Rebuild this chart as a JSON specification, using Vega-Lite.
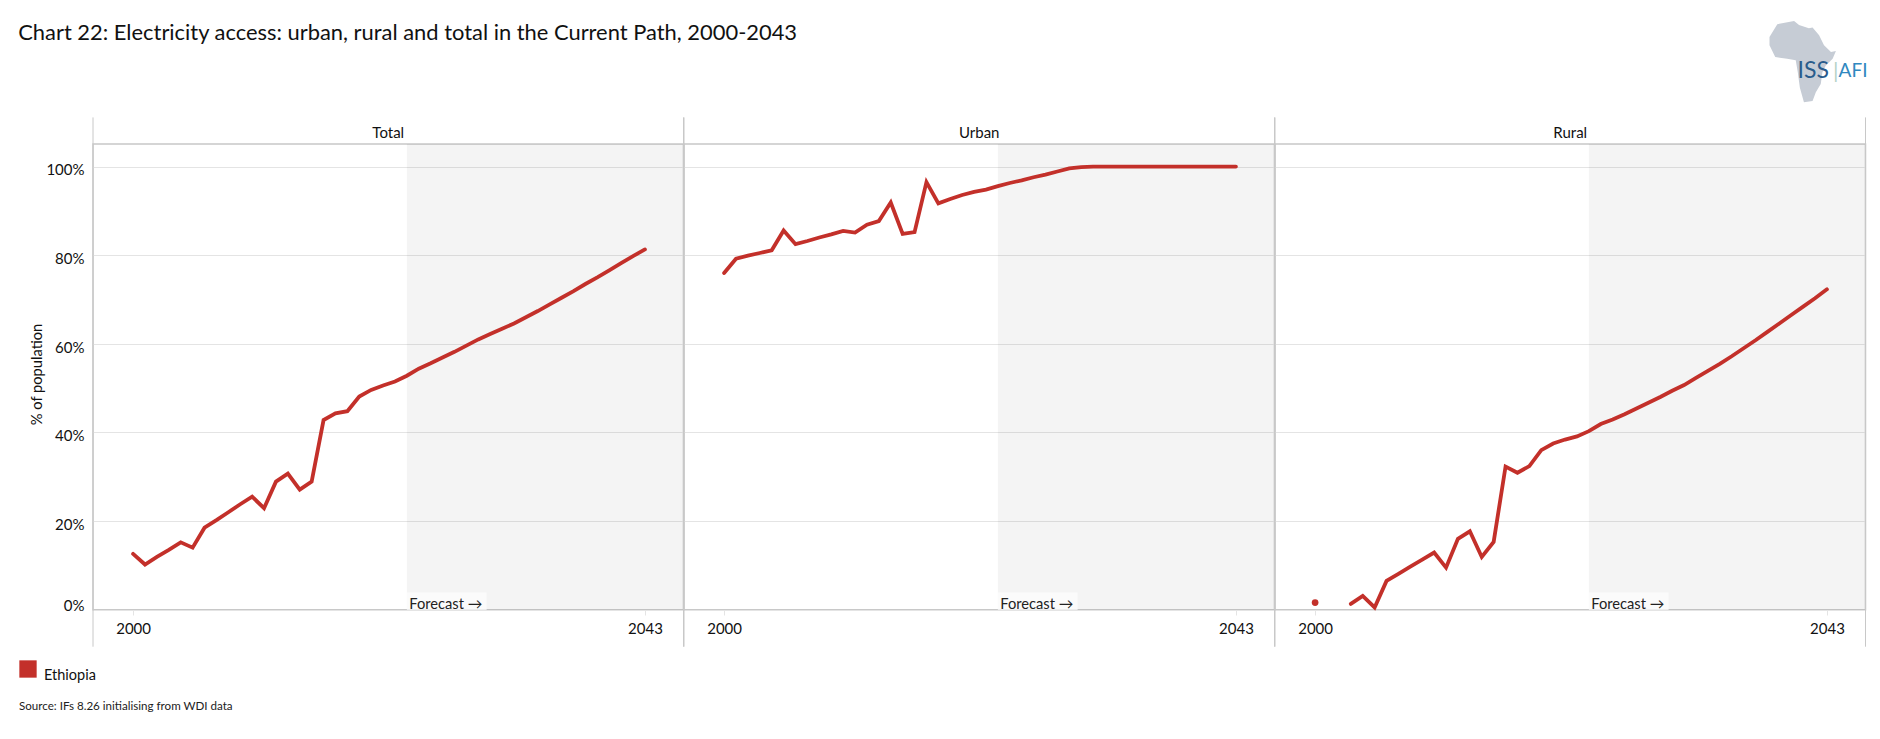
{
"$schema":"https://vega.github.io/schema/vega-lite/v6.json",
"padding":{"left":18,"top":20,"right":15,"bottom":20},
"background":"white",
"title":{"text":"Chart 22: Electricity access: urban, rural and total in the Current Path, 2000-2043","anchor":"start","font":"Lato","fontSize":21.9,"fontWeight":"normal","color":"#111111","dx":0,"offset":-25},
"data":{"values":[
{"panel":"Total","year":2000,"value":12.6},{"panel":"Total","year":2001,"value":10.2},{"panel":"Total","year":2002,"value":11.9},{"panel":"Total","year":2003,"value":13.5},{"panel":"Total","year":2004,"value":15.2},{"panel":"Total","year":2005,"value":14},{"panel":"Total","year":2006,"value":18.5},{"panel":"Total","year":2007,"value":20.2},{"panel":"Total","year":2008,"value":22},{"panel":"Total","year":2009,"value":23.8},{"panel":"Total","year":2010,"value":25.5},{"panel":"Total","year":2011,"value":22.9},{"panel":"Total","year":2012,"value":28.9},{"panel":"Total","year":2013,"value":30.7},{"panel":"Total","year":2014,"value":27.1},{"panel":"Total","year":2015,"value":28.9},{"panel":"Total","year":2016,"value":42.8},{"panel":"Total","year":2017,"value":44.3},{"panel":"Total","year":2018,"value":44.8},{"panel":"Total","year":2019,"value":48.1},{"panel":"Total","year":2020,"value":49.6},{"panel":"Total","year":2021,"value":50.6},{"panel":"Total","year":2022,"value":51.5},{"panel":"Total","year":2023,"value":52.8},{"panel":"Total","year":2024,"value":54.4},{"panel":"Total","year":2025,"value":55.6},{"panel":"Total","year":2026,"value":56.9},{"panel":"Total","year":2027,"value":58.2},{"panel":"Total","year":2028,"value":59.6},{"panel":"Total","year":2029,"value":61},{"panel":"Total","year":2030,"value":62.2},{"panel":"Total","year":2031,"value":63.4},{"panel":"Total","year":2032,"value":64.6},{"panel":"Total","year":2033,"value":66},{"panel":"Total","year":2034,"value":67.4},{"panel":"Total","year":2035,"value":68.9},{"panel":"Total","year":2036,"value":70.4},{"panel":"Total","year":2037,"value":71.9},{"panel":"Total","year":2038,"value":73.5},{"panel":"Total","year":2039,"value":75},{"panel":"Total","year":2040,"value":76.6},{"panel":"Total","year":2041,"value":78.2},{"panel":"Total","year":2042,"value":79.8},{"panel":"Total","year":2043,"value":81.3},
{"panel":"Urban","year":2000,"value":76},{"panel":"Urban","year":2001,"value":79.2},{"panel":"Urban","year":2002,"value":79.9},{"panel":"Urban","year":2003,"value":80.5},{"panel":"Urban","year":2004,"value":81.1},{"panel":"Urban","year":2005,"value":85.6},{"panel":"Urban","year":2006,"value":82.5},{"panel":"Urban","year":2007,"value":83.2},{"panel":"Urban","year":2008,"value":84},{"panel":"Urban","year":2009,"value":84.7},{"panel":"Urban","year":2010,"value":85.5},{"panel":"Urban","year":2011,"value":85.1},{"panel":"Urban","year":2012,"value":86.9},{"panel":"Urban","year":2013,"value":87.7},{"panel":"Urban","year":2014,"value":91.9},{"panel":"Urban","year":2015,"value":84.8},{"panel":"Urban","year":2016,"value":85.2},{"panel":"Urban","year":2017,"value":96.5},{"panel":"Urban","year":2018,"value":91.7},{"panel":"Urban","year":2019,"value":92.7},{"panel":"Urban","year":2020,"value":93.6},{"panel":"Urban","year":2021,"value":94.3},{"panel":"Urban","year":2022,"value":94.8},{"panel":"Urban","year":2023,"value":95.6},{"panel":"Urban","year":2024,"value":96.3},{"panel":"Urban","year":2025,"value":96.9},{"panel":"Urban","year":2026,"value":97.6},{"panel":"Urban","year":2027,"value":98.2},{"panel":"Urban","year":2028,"value":98.9},{"panel":"Urban","year":2029,"value":99.6},{"panel":"Urban","year":2030,"value":99.9},{"panel":"Urban","year":2031,"value":100},{"panel":"Urban","year":2032,"value":100},{"panel":"Urban","year":2033,"value":100},{"panel":"Urban","year":2034,"value":100},{"panel":"Urban","year":2035,"value":100},{"panel":"Urban","year":2036,"value":100},{"panel":"Urban","year":2037,"value":100},{"panel":"Urban","year":2038,"value":100},{"panel":"Urban","year":2039,"value":100},{"panel":"Urban","year":2040,"value":100},{"panel":"Urban","year":2041,"value":100},{"panel":"Urban","year":2042,"value":100},{"panel":"Urban","year":2043,"value":100},
{"panel":"Rural","year":2000,"value":1.6},{"panel":"Rural","year":2001,"value":null},{"panel":"Rural","year":2002,"value":null},{"panel":"Rural","year":2003,"value":1.3},{"panel":"Rural","year":2004,"value":3.1},{"panel":"Rural","year":2005,"value":0.5},{"panel":"Rural","year":2006,"value":6.5},{"panel":"Rural","year":2007,"value":8.1},{"panel":"Rural","year":2008,"value":9.7},{"panel":"Rural","year":2009,"value":11.3},{"panel":"Rural","year":2010,"value":12.9},{"panel":"Rural","year":2011,"value":9.5},{"panel":"Rural","year":2012,"value":16},{"panel":"Rural","year":2013,"value":17.7},{"panel":"Rural","year":2014,"value":11.9},{"panel":"Rural","year":2015,"value":15.3},{"panel":"Rural","year":2016,"value":32.3},{"panel":"Rural","year":2017,"value":30.9},{"panel":"Rural","year":2018,"value":32.4},{"panel":"Rural","year":2019,"value":36},{"panel":"Rural","year":2020,"value":37.5},{"panel":"Rural","year":2021,"value":38.4},{"panel":"Rural","year":2022,"value":39.1},{"panel":"Rural","year":2023,"value":40.3},{"panel":"Rural","year":2024,"value":41.9},{"panel":"Rural","year":2025,"value":42.9},{"panel":"Rural","year":2026,"value":44.1},{"panel":"Rural","year":2027,"value":45.4},{"panel":"Rural","year":2028,"value":46.7},{"panel":"Rural","year":2029,"value":48},{"panel":"Rural","year":2030,"value":49.4},{"panel":"Rural","year":2031,"value":50.7},{"panel":"Rural","year":2032,"value":52.3},{"panel":"Rural","year":2033,"value":53.9},{"panel":"Rural","year":2034,"value":55.5},{"panel":"Rural","year":2035,"value":57.2},{"panel":"Rural","year":2036,"value":59},{"panel":"Rural","year":2037,"value":60.8},{"panel":"Rural","year":2038,"value":62.7},{"panel":"Rural","year":2039,"value":64.6},{"panel":"Rural","year":2040,"value":66.5},{"panel":"Rural","year":2041,"value":68.4},{"panel":"Rural","year":2042,"value":70.3},{"panel":"Rural","year":2043,"value":72.3}
]},
"transform":[{"calculate":"'Ethiopia'","as":"country"}],
"facet":{"column":{"field":"panel","type":"nominal","sort":["Total","Urban","Rural"],"title":null,"header":{"title":null,"labelFont":"Lato","labelFontSize":15,"labelColor":"#111111","labelPadding":3}}},
"spacing":0,
"bounds":"flush",
"spec":{
"width":590.5,"height":465.7,
"layer":[
{"transform":[{"filter":"datum.year==2043"}],"mark":{"type":"rect","color":"#000000","opacity":0.043},"encoding":{"x":{"datum":2023,"type":"quantitative"},"x2":{"datum":2046.24}}},
{"transform":[{"filter":"datum.year==2043"}],"mark":{"type":"rect","color":"#fbfbfb"},"encoding":{"x":{"datum":2023,"type":"quantitative"},"x2":{"datum":2029.7},"y":{"datum":3.9,"type":"quantitative"},"y2":{"datum":0}}},
{"transform":[{"filter":"datum.year==2043"}],"mark":{"type":"text","text":"Forecast →","align":"left","baseline":"middle","font":"Lato","fontSize":14.7,"color":"#222222"},"encoding":{"x":{"datum":2023.2,"type":"quantitative"},"y":{"datum":1.0,"type":"quantitative"}}},
{"transform":[{"filter":"datum.year==2043"}],"mark":{"type":"rule","color":"#c8c8c8","strokeWidth":1,"clip":false},"encoding":{"x":{"datum":1996.63,"type":"quantitative"},"y":{"datum":-8.35,"type":"quantitative"},"y2":{"datum":111.1}}},
{"transform":[{"filter":"datum.year==2043"}],"mark":{"type":"rule","color":"#c8c8c8","strokeWidth":1,"clip":false},"encoding":{"x":{"datum":2046.24,"type":"quantitative"},"y":{"datum":-8.35,"type":"quantitative"},"y2":{"datum":111.1}}},
{"mark":{"type":"line","strokeWidth":3.8,"strokeCap":"round","strokeJoin":"miter"},
"encoding":{
"x":{"field":"year","type":"quantitative","title":null,"scale":{"domain":[1996.63,2046.24],"nice":false,"zero":false},"axis":{"values":[2000,2043],"format":"d","grid":false,"domainColor":"#c8c8c8","domainWidth":1,"tickColor":"#e4e4e4","tickSize":5,"labelFont":"Lato","labelFontSize":15,"labelColor":"#111111","labelPadding":6}},
"y":{"field":"value","type":"quantitative","title":"% of population","scale":{"domain":[0,105.1],"nice":false,"zero":false},"axis":{"values":[0,20,40,60,80,100],"labelExpr":"datum.value+'%'","grid":true,"gridColor":"#e4e4e4","gridWidth":1,"domain":false,"ticks":false,"labelFont":"Lato","labelFontSize":15,"labelColor":"#111111","labelPadding":9,"labelOffset":3.4,"labelBaseline":{"condition":{"test":"datum.value===0","value":"bottom"},"value":"middle"},"titleFont":"Lato","titleFontSize":14.7,"titleFontWeight":"normal","titleColor":"#111111","titlePadding":1,"titleY":230}},
"color":{"field":"country","type":"nominal","scale":{"range":["#c3302a"]},"legend":{"title":null,"orient":"none","legendX":-74,"legendY":516,"symbolType":"square","symbolSize":300,"symbolFillColor":"#c3302a","symbolStrokeWidth":0,"labelFont":"Lato","labelFontSize":14.5,"labelColor":"#111111","labelOffset":7,"labelBaseline":"top"}}
}},
{"transform":[{"filter":"datum.panel=='Rural' && datum.year==2000"}],"mark":{"type":"circle","size":45,"opacity":1},"encoding":{"x":{"field":"year","type":"quantitative"},"y":{"field":"value","type":"quantitative"},"color":{"field":"country","type":"nominal"}}},
{"transform":[{"filter":"datum.panel=='Total' && datum.year==2043"}],"mark":{"type":"text","text":"Source: IFs 8.26 initialising from WDI data","align":"left","baseline":"middle","font":"Lato","fontSize":11.6,"color":"#222222","clip":false},"encoding":{"x":{"datum":1990.41,"type":"quantitative"},"y":{"datum":-22.05,"type":"quantitative"}}},
{"transform":[{"filter":"datum.panel=='Rural' && datum.year==2043"}],"mark":{"type":"point","shape":"M-.61,-.9L-.2,-.98L-.08,-.88L.16,-.8L.25,-.82L.41,-.63L.53,-.39L.7,-.22L.82,-.25L.74,-.06L.57,.11L.49,.27L.45,.56L.33,.76L.25,.97L.04,1L-.06,.64L-.11,.27L-.16,-.02L-.37,-.06L-.66,-.1L-.8,-.39L-.8,-.59Z","size":6724,"filled":true,"color":"#c6ccd5","opacity":1,"clip":false},"encoding":{"x":{"datum":2040.93,"type":"quantitative"},"y":{"datum":123.8,"type":"quantitative"}}},
{"transform":[{"filter":"datum.panel=='Rural' && datum.year==2043"}],"mark":{"type":"text","text":"ISS","align":"left","baseline":"middle","font":"Lato","fontSize":23,"color":"#2a5c8c","clip":false},"encoding":{"x":{"datum":2040.53,"type":"quantitative"},"y":{"datum":121.5,"type":"quantitative"}}},
{"transform":[{"filter":"datum.panel=='Rural' && datum.year==2043"}],"mark":{"type":"text","text":"|","align":"left","baseline":"middle","font":"Lato","fontSize":22,"color":"#b5d3c8","clip":false},"encoding":{"x":{"datum":2043.5,"type":"quantitative"},"y":{"datum":121.5,"type":"quantitative"}}},
{"transform":[{"filter":"datum.panel=='Rural' && datum.year==2043"}],"mark":{"type":"text","text":"AFI","align":"left","baseline":"middle","font":"Lato","fontSize":19,"color":"#2f88c0","clip":false},"encoding":{"x":{"datum":2043.98,"type":"quantitative"},"y":{"datum":121.5,"type":"quantitative"}}}
]},
"config":{"view":{"stroke":"#c8c8c8","strokeWidth":1.5},"style":{"cell":{"stroke":"#c8c8c8"}}}
}
